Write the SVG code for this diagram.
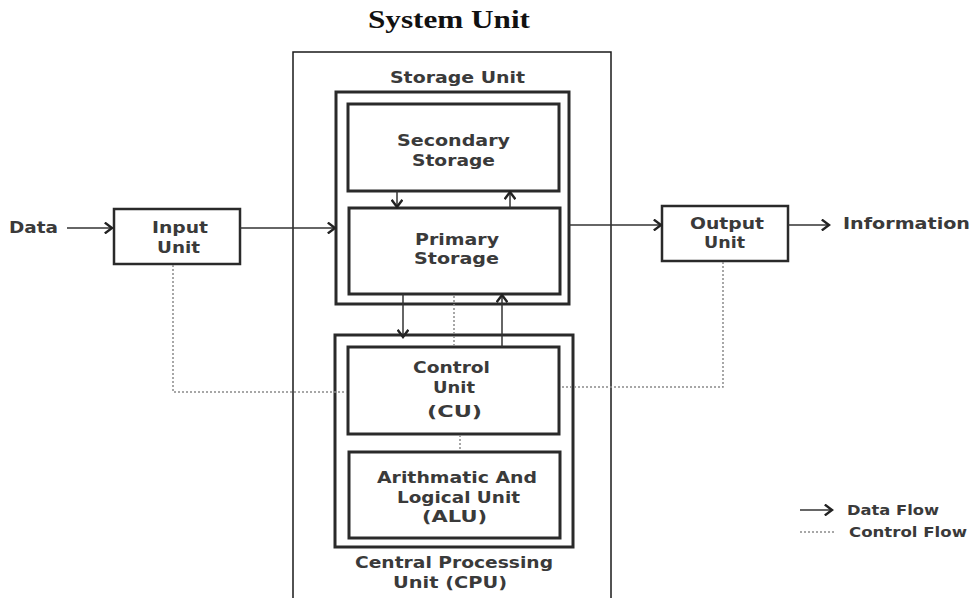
<svg xmlns="http://www.w3.org/2000/svg" width="974" height="598" viewBox="0 0 974 598">
<style>
.t{font-family:"DejaVu Sans","Verdana",sans-serif;font-weight:bold;font-size:16px;fill:#3a3a3a;text-anchor:start}
.box{fill:#fff;stroke:#2a2a2a;stroke-width:3}
.thin{fill:none;stroke:#1a1a1a;stroke-width:1.5}
.flow{fill:none;stroke:#333;stroke-width:1.5;marker-end:url(#chev)}
.ctl{fill:none;stroke:#8a8a8a;stroke-width:1.5;stroke-dasharray:2 2}
</style>
<defs>
<marker id="chev" markerUnits="userSpaceOnUse" markerWidth="12" markerHeight="12" refX="7" refY="5" orient="auto" viewBox="0 0 10 10">
<path d="M1,0.5 L7,5 L1,9.5" fill="none" stroke="#222" stroke-width="2"/>
</marker>
</defs>
<rect width="974" height="598" fill="#fff"/>
<text x="368" y="28" textLength="162" lengthAdjust="spacingAndGlyphs" style="font-family:'Liberation Serif',serif;font-weight:bold;font-size:26px;fill:#111">System Unit</text>

<g id="system-unit">
<rect class="thin" x="293" y="52" width="318" height="560"/>
</g>

<g id="storage-unit">
<rect class="box" x="336" y="92" width="233" height="212"/>
<text class="t" x="390" y="83" textLength="135" lengthAdjust="spacingAndGlyphs">Storage Unit</text>
</g>
<g id="secondary-storage">
<rect class="box" x="348" y="104" width="211" height="87"/>
<text class="t" x="397" y="146" textLength="113" lengthAdjust="spacingAndGlyphs">Secondary</text>
<text class="t" x="412" y="166" textLength="83" lengthAdjust="spacingAndGlyphs">Storage</text>
</g>
<g id="primary-storage">
<rect class="box" x="349" y="208" width="211" height="86"/>
<text class="t" x="415" y="245" textLength="84" lengthAdjust="spacingAndGlyphs">Primary</text>
<text class="t" x="414" y="264" textLength="85" lengthAdjust="spacingAndGlyphs">Storage</text>
</g>

<g id="cpu">
<rect class="box" x="335" y="335" width="238" height="212"/>
<text class="t" x="355" y="568" textLength="198" lengthAdjust="spacingAndGlyphs">Central Processing</text>
<text class="t" x="393" y="588" textLength="114" lengthAdjust="spacingAndGlyphs">Unit (CPU)</text>
</g>
<g id="control-unit">
<rect class="box" x="348" y="347" width="211" height="87"/>
<text class="t" x="413" y="373" textLength="77" lengthAdjust="spacingAndGlyphs">Control</text>
<text class="t" x="433" y="393" textLength="42" lengthAdjust="spacingAndGlyphs">Unit</text>
<text class="t" x="427" y="417" textLength="55" lengthAdjust="spacingAndGlyphs">(CU)</text>
</g>
<g id="alu">
<rect class="box" x="349" y="452" width="211" height="86"/>
<text class="t" x="377" y="483" textLength="160" lengthAdjust="spacingAndGlyphs">Arithmatic And</text>
<text class="t" x="397" y="503" textLength="123" lengthAdjust="spacingAndGlyphs">Logical Unit</text>
<text class="t" x="422" y="522" textLength="65" lengthAdjust="spacingAndGlyphs">(ALU)</text>
</g>

<g id="input-unit">
<rect class="box" x="114" y="209" width="126" height="55" style="stroke-width:2.5"/>
<text class="t" x="152" y="233" textLength="56" lengthAdjust="spacingAndGlyphs">Input</text>
<text class="t" x="157" y="253" textLength="43" lengthAdjust="spacingAndGlyphs">Unit</text>
</g>
<g id="output-unit">
<rect class="box" x="662" y="206" width="126" height="55" style="stroke-width:2.5"/>
<text class="t" x="690" y="229" textLength="74" lengthAdjust="spacingAndGlyphs">Output</text>
<text class="t" x="704" y="248" textLength="41" lengthAdjust="spacingAndGlyphs">Unit</text>
</g>
<g id="data-label">
<text class="t" x="9" y="233" textLength="49" lengthAdjust="spacingAndGlyphs">Data</text>
</g>
<g id="information-label">
<text class="t" x="843" y="229" textLength="127" lengthAdjust="spacingAndGlyphs">Information</text>
</g>

<g id="connectors">
<path class="flow" d="M67,228 H112"/>
<path class="flow" d="M240,228 H335"/>
<path class="flow" d="M569,225 H661"/>
<path class="flow" d="M788,225 H829"/>
<path class="flow" d="M397,191 V207"/>
<path class="flow" d="M510,208 V192"/>
<path class="flow" d="M403,294 V337"/>
<path class="flow" d="M502,347 V295"/>
<path class="ctl" d="M454,296 V346"/>
<path class="ctl" d="M460,435 V451"/>
<path class="ctl" d="M173,265 V392 H347"/>
<path class="ctl" d="M723,262 V387 H560"/>
</g>

<g id="legend">
<path class="flow" d="M800,510 H832"/>
<text class="t" x="847" y="515" textLength="92" lengthAdjust="spacingAndGlyphs" style="font-size:14px">Data Flow</text>
<path class="ctl" d="M800,532 H836"/>
<text class="t" x="849" y="537" textLength="118" lengthAdjust="spacingAndGlyphs" style="font-size:14px">Control Flow</text>
</g>
</svg>
